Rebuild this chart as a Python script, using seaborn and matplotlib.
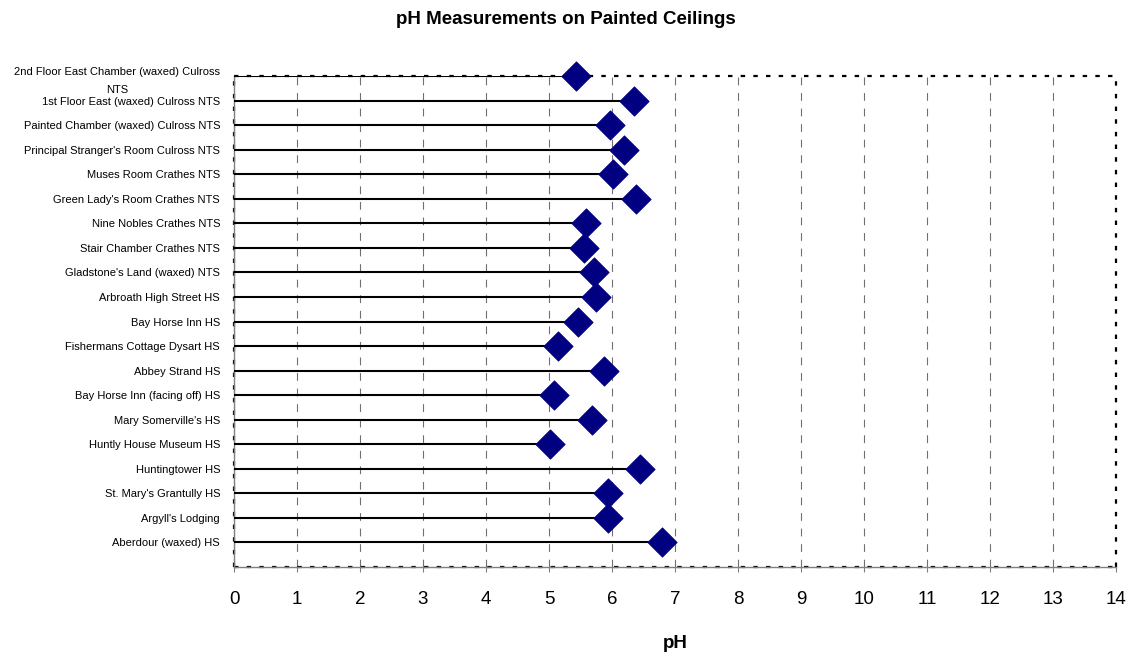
import numpy as np
import pandas as pd
import matplotlib
matplotlib.use("Agg")
import matplotlib.pyplot as plt
import seaborn as sns

sites = [
    "2nd Floor East Chamber (waxed) Culross\nNTS",
    "1st Floor East (waxed) Culross NTS",
    "Painted Chamber (waxed) Culross NTS",
    "Principal Stranger's Room Culross NTS",
    "Muses Room Crathes NTS",
    "Green Lady's Room Crathes NTS",
    "Nine Nobles Crathes NTS",
    "Stair Chamber Crathes NTS",
    "Gladstone's Land (waxed) NTS",
    "Arbroath High Street HS",
    "Bay Horse Inn HS",
    "Fishermans Cottage Dysart HS",
    "Abbey Strand HS",
    "Bay Horse Inn (facing off) HS",
    "Mary Somerville's HS",
    "Huntly House Museum HS",
    "Huntingtower HS",
    "St. Mary's Grantully HS",
    "Argyll's Lodging",
    "Aberdour (waxed) HS",
]
ph_values = [5.43, 6.35, 5.97, 6.19, 6.01, 6.38, 5.59, 5.56, 5.72, 5.74,
             5.46, 5.14, 5.87, 5.08, 5.68, 5.02, 6.45, 5.94, 5.94, 6.79]
x_ticks = list(range(0, 15))

df = pd.DataFrame({"site": sites, "pH": ph_values})
df["pos"] = np.arange(len(df))

sns.set_style("white")
plt.rcParams["font.family"] = ["Liberation Sans", "DejaVu Sans"]
plt.rcParams["text.color"] = "black"
plt.rcParams["axes.labelcolor"] = "black"
plt.rcParams["xtick.labelcolor"] = "black"
plt.rcParams["ytick.labelcolor"] = "black"

W, H = 1131, 652
fig = plt.figure(figsize=(W / 100, H / 100), dpi=100)
ax = fig.add_axes([234 / W, 1 - 567 / H, (1116 - 234) / W, (567 - 76) / H])

# stems
ax.hlines(df["pos"], 0, df["pH"], color="black", lw=1.5, zorder=3)
# markers
sns.scatterplot(data=df, x="pH", y="pos", marker="D", s=225, color="#000080",
                edgecolor="#000080", linewidth=0.5, zorder=4, clip_on=False,
                legend=False, ax=ax)

ax.set_xlim(0, 14)
ax.set_ylim(len(df), 0)
ax.set_xticks(x_ticks)
ax.set_xticklabels([str(t) for t in x_ticks])
ax.set_yticks(df["pos"])
ax.set_yticklabels(df["site"], fontsize=8)
for lab in ax.get_yticklabels():
    lab.set_multialignment("center")
    lab.set_linespacing(1.95)

ax.tick_params(axis="y", length=0, pad=10)
ax.tick_params(axis="x", length=3.6, width=0.8, color="#808080", direction="out",
               labelsize=13.5, pad=14, bottom=True)

ax.set_axisbelow(True)
ax.grid(axis="x", color="#707070", lw=0.8, ls=(0, (7, 7)))
ax.grid(axis="y", visible=False)

for side in ["left", "bottom"]:
    ax.spines[side].set_color("#808080")
    ax.spines[side].set_linewidth(1.0)
for side in ["top", "right"]:
    ax.spines[side].set_visible(False)

dot = dict(color="black", lw=1.6, ls=(0, (2, 3.7)), transform=ax.transAxes,
           clip_on=False, zorder=2.5)
ax.plot([0, 1], [1, 1], **dot)
ax.plot([1, 1], [0, 1], **dot)
ax.plot([0, 1], [0, 0], **dot)
ax.plot([0, 0], [0, 1], **dot)

ax.set_ylabel("")
ax.set_xlabel("pH", fontsize=13.5, fontweight="bold", labelpad=19)

fig.text(0.5, 1 - 19 / H, "pH Measurements on Painted Ceilings", ha="center",
         va="center", fontsize=13.5, fontweight="bold")

fig.savefig("out.png", dpi=100, facecolor="white")
